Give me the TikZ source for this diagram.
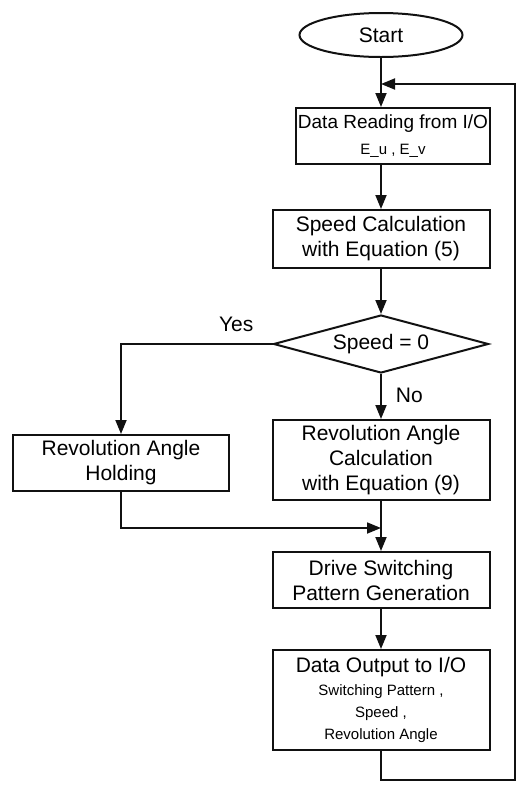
\documentclass[tikz,border=0pt]{standalone}
\usepackage{fontspec}
\setmainfont{Liberation Sans}
\usetikzlibrary{arrows.meta,positioning,shapes.geometric}
\definecolor{flowink}{HTML}{111111}
\newcommand{\smalltxt}[1]{{\fontsize{7.5}{10}\selectfont #1}}
\tikzset{
  >={Triangle[length=7pt,width=5.5pt]},
  font=\fontsize{10.5}{12.5}\selectfont,
  box/.style={draw=flowink,line width=1pt,rectangle,inner sep=1pt,
              align=center,minimum width=108.5pt},
  terminal/.style={draw=flowink,line width=1pt,ellipse,inner sep=0pt,
                   minimum width=81.5pt,minimum height=22pt},
  decision/.style={draw=flowink,line width=1pt,diamond,aspect=3.7,
                   inner sep=0pt,minimum width=107.5pt,minimum height=29pt},
  flow/.style={->,line width=0.9pt,draw=flowink},
  flowlbl/.style={inner sep=1pt},
}

\begin{document}
\begin{tikzpicture}
  \useasboundingbox (0,0) rectangle (261.5pt,-394pt);

  \node[terminal] (start) at (190.5pt,-17.5pt) {Start};
  \node[box,minimum width=97pt,minimum height=28pt,
        font=\fontsize{9.5}{12}\selectfont] (read) at (196.5pt,-68pt)
    {Data Reading from I/O\\[0.8pt]\smalltxt{E\_u , E\_v}};
  \node[box,minimum height=29pt] (speed) at (190.5pt,-119.5pt)
    {Speed Calculation\\with Equation (5)};
  \node[decision] (test) at (190.5pt,-172pt) {Speed = 0};

  % two branches, joined again above the drive box
  \node[box,minimum width=108pt,minimum height=28pt] (hold) at (60.5pt,-231.5pt)
    {Revolution Angle\\Holding};
  \node[box,minimum height=40pt] (calc) at (190.5pt,-230pt)
    {Revolution Angle\\Calculation\\with Equation (9)};
  \node[box,minimum height=28pt] (drive) at (190.5pt,-290pt)
    {Drive Switching\\Pattern Generation};
  \node[box,minimum height=50pt] (output) at (190.5pt,-350pt)
    {Data Output to I/O\\[-1.3pt]\smalltxt{Switching Pattern ,}\\[-1.5pt]
     \smalltxt{Speed ,}\\[-1.5pt]\smalltxt{Revolution Angle}};

  \coordinate (join) at (190.5pt,-264pt);
  \coordinate (back) at (257.5pt,-390pt);
  \coordinate (entry) at (190.5pt,-42pt);

  \draw[flow] (start.south) -- (start.south |- read.north);
  \draw[flow] (read.south -| speed) -- (speed.north);
  \draw[flow] (speed) -- (test);
  \draw[flow] (test.west) -| node[flowlbl,above=4.5pt,pos=0.12]{Yes} (hold.north);
  \draw[flow] (test) -- node[flowlbl,right=6pt,pos=0.47]{No} (calc);
  \draw[flow] (calc) -- (drive);
  \draw[flow] (hold.south) |- (join);
  \draw[flow] (drive) -- (output);
  \draw[flow] (output.south) |- (back) |- (entry);
\end{tikzpicture}
\end{document}
